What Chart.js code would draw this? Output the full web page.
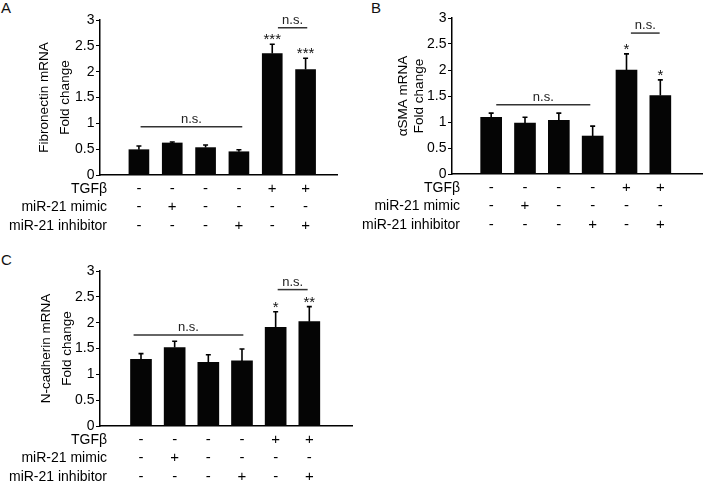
<!DOCTYPE html>
<html>
<head>
<meta charset="utf-8">
<script src="https://cdn.jsdelivr.net/npm/chart.js@4"></script>
<style>
  html, body { margin: 0; padding: 0; background: #fff; }
  body { width: 703px; height: 481px; position: relative; overflow: hidden;
         font-family: "Liberation Sans", Arial, sans-serif; }
  canvas { position: absolute; }
  .tag { position: absolute; font-size: 15px; line-height: 1; color: #111; }
</style>
</head>
<body>
<div class="tag" style="left:1px;top:0px">A</div>
<div class="tag" style="left:371px;top:0px">B</div>
<div class="tag" style="left:1px;top:252px">C</div>
<canvas id="cA" width="350" height="240" style="left:0;top:0"></canvas>
<canvas id="cB" width="353" height="240" style="left:350px;top:0"></canvas>
<canvas id="cC" width="360" height="241" style="left:0;top:240px"></canvas>
<script>
// treatment table (one entry per bar)
const TGFB  = ["-", "-", "-", "-", "+", "+"];
const MIMIC = ["-", "+", "-", "-", "-", "-"];
const INHIB = ["-", "-", "-", "+", "-", "+"];
const ROWS = ["TGFβ", "miR-21 mimic", "miR-21 inhibitor"];
const Y_TICKS = [0, 0.5, 1, 1.5, 2, 2.5, 3];

// A - fibronectin
const FN_MEAN = [0.49, 0.62, 0.53, 0.45, 2.35, 2.04];
const FN_ERR  = [0.07, 0.02, 0.05, 0.04, 0.18, 0.22];
const FN_STARS = ["", "", "", "", "***", "***"];
const FN_NS = [[1.05, 4.1, 0.935], [5.17, 6.05, 2.85]];   // [from bar, to bar, level]

// B - aSMA
const SMA_MEAN = [1.09, 0.98, 1.03, 0.73, 2.00, 1.51];
const SMA_ERR  = [0.08, 0.11, 0.14, 0.19, 0.31, 0.30];
const SMA_STARS = ["", "", "", "", "*", "*"];
const SMA_NS = [[1.15, 3.93, 1.33], [5.13, 5.98, 2.71]];

// C - N-cadherin
const NC_MEAN = [1.29, 1.52, 1.23, 1.26, 1.91, 2.02];
const NC_ERR  = [0.11, 0.12, 0.15, 0.23, 0.30, 0.29];
const NC_STARS = ["", "", "", "", "*", "**"];
const NC_NS = [[0.78, 4.04, 1.76], [5.06, 5.95, 2.64]];

const FONT = '"Liberation Sans", Arial, sans-serif';
const ROW_H = 18.5, ROW_PAD = 4.5;

function panel(id, d, lay) {
  const deco = {
    id: "deco",
    afterDraw(chart) {
      const ctx = chart.ctx, xs = chart.scales.x, ys = chart.scales.y;
      const meta = chart.getDatasetMeta(0), area = chart.chartArea;
      ctx.save();
      // error bars + stars
      d.mean.forEach((m, i) => {
        const bx = meta.data[i].x;
        const y0 = ys.getPixelForValue(m), y1 = ys.getPixelForValue(m + d.err[i]);
        ctx.strokeStyle = "#000"; ctx.lineWidth = 1.6;
        ctx.beginPath();
        ctx.moveTo(bx, y0); ctx.lineTo(bx, y1);
        ctx.moveTo(bx - 2.5, y1); ctx.lineTo(bx + 2.5, y1);
        ctx.stroke();
        if (d.stars[i]) {
          ctx.fillStyle = "#111"; ctx.font = "15px " + FONT;
          ctx.textAlign = "center"; ctx.textBaseline = "alphabetic";
          ctx.fillText(d.stars[i], bx, y1);
        }
      });
      // n.s. lines
      d.ns.forEach(([a, b, v]) => {
        const x0 = xs.getPixelForValue(a), x1 = xs.getPixelForValue(b), yy = ys.getPixelForValue(v);
        ctx.strokeStyle = "#333"; ctx.lineWidth = 1.5;
        ctx.beginPath(); ctx.moveTo(x0, yy); ctx.lineTo(x1, yy); ctx.stroke();
        ctx.fillStyle = "#222"; ctx.font = "13px " + FONT;
        ctx.textAlign = "center"; ctx.textBaseline = "alphabetic";
        ctx.fillText("n.s.", (x0 + x1) / 2, yy - 4);
      });
      // row names of the table
      ctx.fillStyle = "#000"; ctx.font = "14px " + FONT;
      ctx.textAlign = "right"; ctx.textBaseline = "middle";
      ROWS.forEach((r, k) => ctx.fillText(r, area.left + lay.hdx,
        area.bottom + ROW_PAD + ROW_H / 2 + k * ROW_H));
      ctx.restore();
    }
  };

  return new Chart(document.getElementById(id), {
    type: "bar",
    data: { datasets: [{
      data: d.mean.map((v, i) => ({ x: i + 1, y: v })),
      backgroundColor: "#050505", borderWidth: 0, barThickness: lay.bar,
    }] },
    options: {
      responsive: false, animation: false, events: [],
      layout: { padding: { top: lay.top, right: lay.right, left: 0, bottom: 0 } },
      plugins: { legend: { display: false }, tooltip: { enabled: false } },
      scales: {
        x: {
          type: "linear", min: lay.xmin, max: lay.xmax,
          afterBuildTicks: (s) => { s.ticks = TGFB.map((_, i) => ({ value: i + 1 })); },
          afterFit: (s) => { s.height = lay.xh; },
          grid: { display: false, drawTicks: false },
          border: { display: true, color: "#000", width: 1.5 },
          ticks: {
            autoSkip: false, maxRotation: 0, minRotation: 0, padding: ROW_PAD, color: "#000",
            font: { family: FONT, size: 15, lineHeight: ROW_H + "px" },
            callback: (v) => { const i = Math.round(v) - 1; return [TGFB[i], MIMIC[i], INHIB[i]]; },
          },
        },
        y: {
          min: 0, max: 3,
          afterBuildTicks: (s) => { s.ticks = Y_TICKS.map((v) => ({ value: v })); },
          afterFit: (s) => { s.width = lay.yw; },
          grid: { display: true, drawOnChartArea: false, drawTicks: true, tickLength: 4, color: "#000", lineWidth: 1 },
          border: { display: true, color: "#000", width: 1.5 },
          ticks: { padding: 1.5, color: "#000", font: { family: FONT, size: 14 }, callback: (v) => String(v) },
          title: {
            display: true, text: [d.title, "Fold change"], color: "#000",
            font: { family: FONT, size: 13.5, lineHeight: lay.tlh + "px" },
            padding: { top: lay.tpad, bottom: 0 },
          },
        },
      },
    },
    plugins: [deco],
  });
}

panel("cA",
  { title: "Fibronectin mRNA", mean: FN_MEAN, err: FN_ERR, stars: FN_STARS, ns: FN_NS },
  { top: 20, right: 13, yw: 100, xh: 65, xmin: 0.425, xmax: 6.35, bar: 20, hdx: 7, tlh: 21, tpad: 34 });
panel("cB",
  { title: "αSMA mRNA", mean: SMA_MEAN, err: SMA_ERR, stars: SMA_STARS, ns: SMA_NS },
  { top: 18, right: 1, yw: 102, xh: 66, xmin: 0.458, xmax: 6.616, bar: 21, hdx: 8, tlh: 16, tpad: 45 });
panel("cC",
  { title: "N-cadherin mRNA", mean: NC_MEAN, err: NC_ERR, stars: NC_STARS, ns: NC_NS },
  { top: 31, right: 8, yw: 100, xh: 55, xmin: 0.406, xmax: 6.644, bar: 21, hdx: 7, tlh: 21, tpad: 36 });
</script>
</body>
</html>
